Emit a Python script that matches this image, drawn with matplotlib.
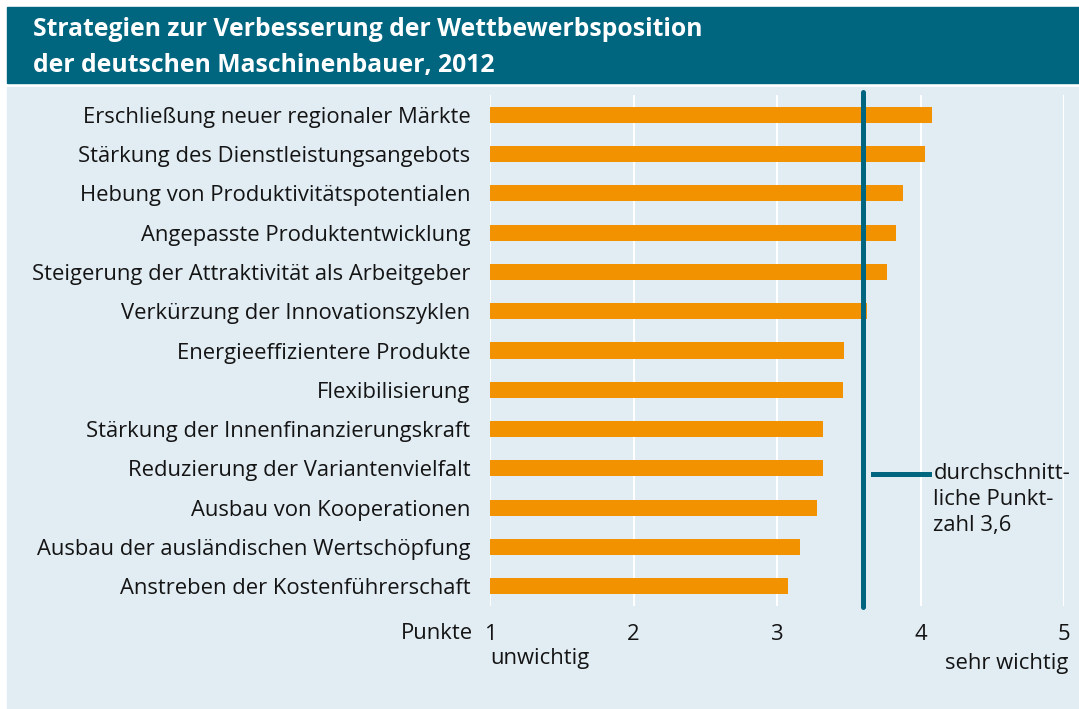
import matplotlib
matplotlib.use("Agg")
import matplotlib.pyplot as plt
from matplotlib.patches import Rectangle

plt.rcParams["font.family"] = ["Open Sans", "DejaVu Sans"]

# data (scale 1 = unwichtig ... 5 = sehr wichtig)
strategies = [
    "Erschließung neuer regionaler Märkte",
    "Stärkung des Dienstleistungsangebots",
    "Hebung von Produktivitätspotentialen",
    "Angepasste Produktentwicklung",
    "Steigerung der Attraktivität als Arbeitgeber",
    "Verkürzung der Innovationszyklen",
    "Energieeffizientere Produkte",
    "Flexibilisierung",
    "Stärkung der Innenfinanzierungskraft",
    "Reduzierung der Variantenvielfalt",
    "Ausbau von Kooperationen",
    "Ausbau der ausländischen Wertschöpfung",
    "Anstreben der Kostenführerschaft",
]
scores = [4.08, 4.03, 3.88, 3.83, 3.77, 3.63, 3.47, 3.46, 3.32, 3.32, 3.28, 3.16, 3.08]
average = 3.6
x_ticks = [1, 2, 3, 4, 5]

teal = "#00657f"
orange = "#f39200"
panel = "#e1ecf3"
txt = "#141414"
fs = 15.8

fig = plt.figure(figsize=(10.79, 7.09), dpi=100)
fig.patch.set_facecolor("white")

# title bar and light panel
fig.patches.append(Rectangle((7 / 1079, 1 - 83 / 709), 1, 76 / 709,
                             transform=fig.transFigure, color=teal, zorder=-10))
fig.patches.append(Rectangle((7 / 1079, 0), 1, 1 - 87 / 709,
                             transform=fig.transFigure, color=panel, zorder=-10))
fig.text(33 / 1079, 1 - 36 / 709, "Strategien zur Verbesserung der Wettbewerbsposition",
         color="white", fontsize=17.8, fontweight="bold", va="baseline", ha="left")
fig.text(33 / 1079, 1 - 72 / 709, "der deutschen Maschinenbauer, 2012",
         color="white", fontsize=17.8, fontweight="bold", va="baseline", ha="left")

ax = fig.add_axes([490 / 1079, 1 - 606 / 709, 574 / 1079, 511 / 709])
ax.set_facecolor("none")
pos = list(range(len(strategies)))
ax.barh(pos, [s - 1 for s in scores], left=1, height=0.41, color=orange, zorder=2)
ax.set_xlim(1, 5)
ax.set_ylim(len(strategies) - 0.5, -0.5)
for x in x_ticks:
    ax.axvline(x, color="white", lw=1.5, zorder=1)
ax.axvline(average, ymin=-0.002, ymax=1.005, color=teal, lw=3.6, zorder=3,
           solid_capstyle="round", clip_on=False)

for s in ax.spines.values():
    s.set_visible(False)
ax.set_yticks(pos)
ax.set_yticklabels(strategies, fontsize=fs, color=txt)
ax.tick_params(axis="y", length=0, pad=14)
ax.set_xticks(x_ticks)
ax.set_xticklabels([str(x) for x in x_ticks], fontsize=fs, color=txt)
ax.tick_params(axis="x", length=0, pad=13)

ax.text(1 - 0.12, -0.053, "Punkte", transform=ax.get_xaxis_transform(),
        ha="right", va="center", fontsize=fs, color=txt)
ax.text(1, -0.103, "unwichtig", transform=ax.get_xaxis_transform(),
        ha="left", va="center", fontsize=fs, color=txt)
ax.text(5.03, -0.112, "sehr wichtig", transform=ax.get_xaxis_transform(),
        ha="right", va="center", fontsize=fs, color=txt)

# legend for the average line
ax.plot([3.67, 4.06], [9.13, 9.13], color=teal, lw=3.6, clip_on=False, zorder=3)
ax.text(4.09, 8.86, "durchschnitt-\nliche Punkt-\nzahl 3,6", ha="left", va="top",
        fontsize=fs, color=txt, linespacing=1.3)

fig.savefig("out.png", dpi=100, facecolor=fig.get_facecolor())
